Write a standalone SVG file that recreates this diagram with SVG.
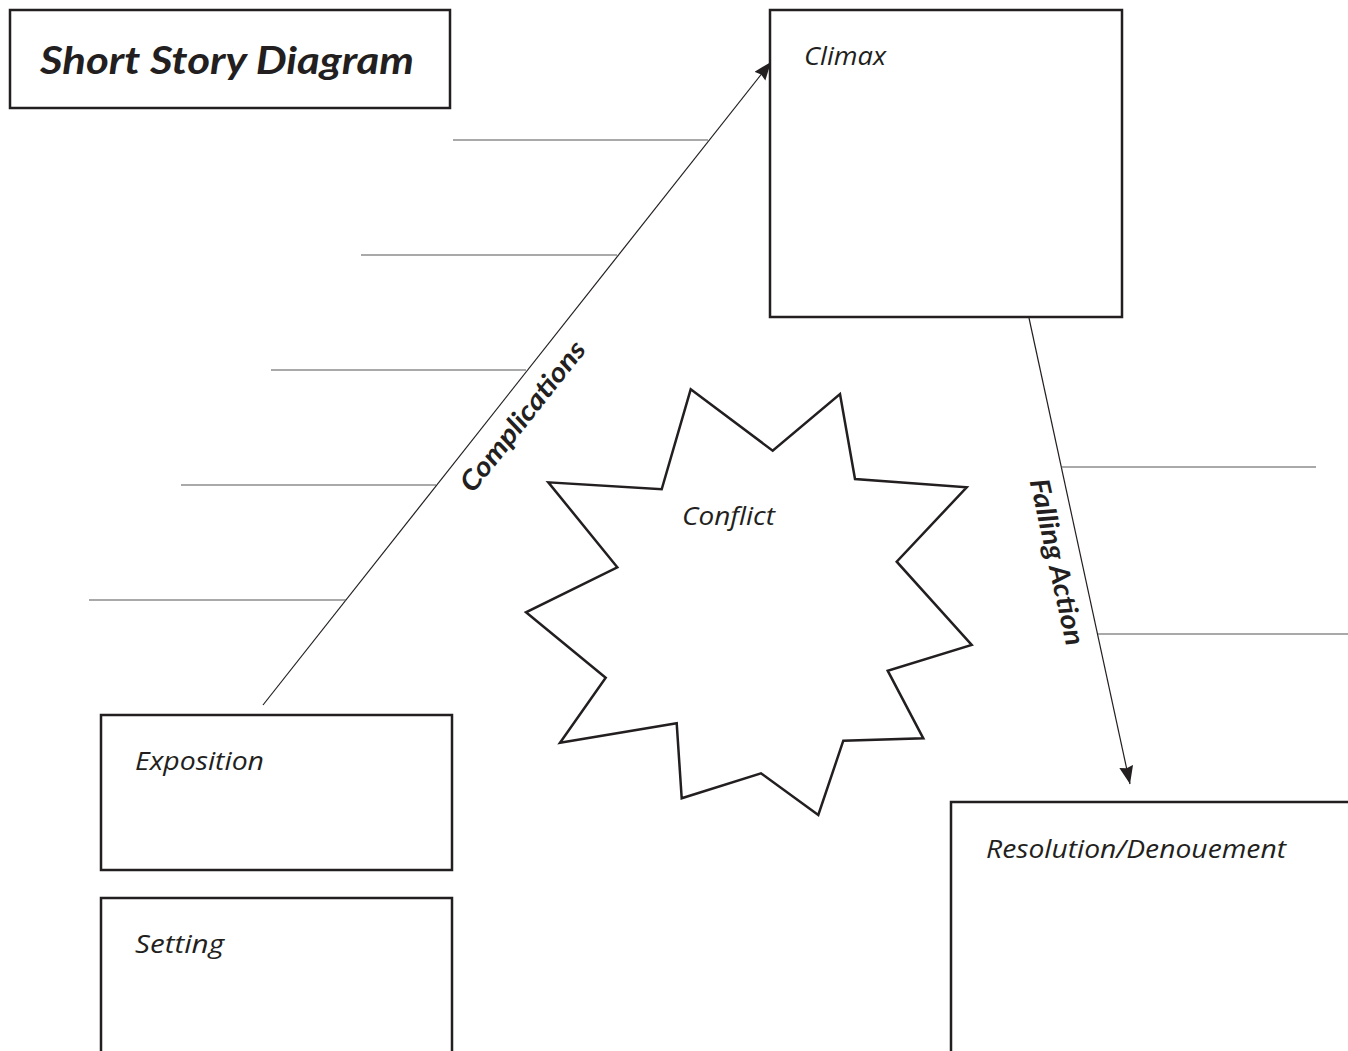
<svg xmlns="http://www.w3.org/2000/svg" width="1348" height="1051" viewBox="0 0 1348 1051">
<style>
.box{fill:#fff;stroke:#231f20;stroke-width:2.5}
.thin{fill:none;stroke:#231f20;stroke-width:1.2}
.rule{fill:none;stroke:#555;stroke-width:1.2}
.lbl{font-family:"Open Sans","Noto Sans",sans-serif;font-style:italic;font-size:25px;fill:#231f20}
.bold{font-family:Lato,"Open Sans",sans-serif;font-style:italic;font-weight:700;fill:#231f20}
</style>
<defs>
<marker id="arr" markerUnits="userSpaceOnUse" markerWidth="22" markerHeight="16" refX="18" refY="7" orient="auto">
<path d="M0,0 L18,7 L0,14 L2,7 Z" fill="#231f20"/>
</marker>
</defs>
<rect width="1348" height="1051" fill="#fff"/>
<g id="title">
<rect class="box" x="10" y="10" width="440" height="98"/>
<text class="bold" x="40" y="74" font-size="38" textLength="374" lengthAdjust="spacingAndGlyphs">Short Story Diagram</text>
</g>
<g id="connectors">
<line class="thin" x1="263" y1="705" x2="771" y2="62" marker-end="url(#arr)"/>
<line class="thin" x1="1029" y1="318" x2="1130" y2="784" marker-end="url(#arr)"/>
<line class="rule" x1="453" y1="140" x2="708" y2="140"/>
<line class="rule" x1="361" y1="255" x2="617" y2="255"/>
<line class="rule" x1="271" y1="370" x2="526" y2="370"/>
<line class="rule" x1="181" y1="485" x2="436" y2="485"/>
<line class="rule" x1="89" y1="600" x2="346" y2="600"/>
<line class="rule" x1="1061" y1="467" x2="1316" y2="467"/>
<line class="rule" x1="1098" y1="634" x2="1348" y2="634"/>
<text class="bold" font-size="27" text-anchor="middle" transform="translate(530,422) rotate(-51.6)" textLength="184" lengthAdjust="spacingAndGlyphs">Complications</text>
<text class="bold" font-size="27" text-anchor="middle" transform="translate(1048,564) rotate(77.5)" textLength="170" lengthAdjust="spacingAndGlyphs">Falling Action</text>
</g>
<g id="climax">
<rect class="box" x="770" y="10" width="352" height="307"/>
<text class="lbl" x="804" y="65" textLength="82" lengthAdjust="spacingAndGlyphs">Climax</text>
</g>
<g id="conflict">
<polygon class="box" points="690.7,389.3 772.7,450.7 840,394 855,479 966.7,487.3 896.7,561.7 971.7,645 887.7,670.7 923.3,738.3 843.3,740.7 818.3,815 761,773.3 681.7,798.3 676.7,723.3 560,742.7 605.7,677.7 526,612.3 617.3,567.3 548.3,482.3 661.7,489.3"/>
<text class="lbl" x="682" y="525" textLength="93" lengthAdjust="spacingAndGlyphs">Conflict</text>
</g>
<g id="exposition">
<rect class="box" x="101" y="715" width="351" height="155"/>
<text class="lbl" x="135" y="770" textLength="129" lengthAdjust="spacingAndGlyphs">Exposition</text>
</g>
<g id="setting">
<rect class="box" x="101" y="898" width="351" height="170"/>
<text class="lbl" x="135" y="953" textLength="89" lengthAdjust="spacingAndGlyphs">Setting</text>
</g>
<g id="resolution">
<rect class="box" x="951" y="802" width="420" height="270"/>
<text class="lbl" x="986" y="858" textLength="300" lengthAdjust="spacingAndGlyphs">Resolution/Denouement</text>
</g>
</svg>
